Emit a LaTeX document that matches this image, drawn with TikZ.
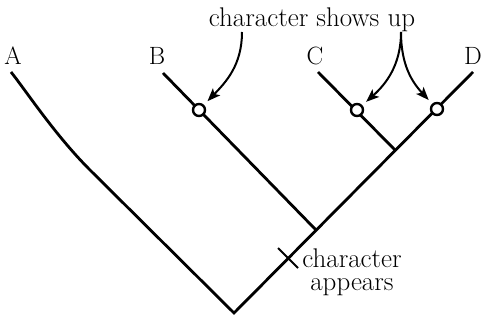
\documentclass[tikz,border=0pt]{standalone}
\usetikzlibrary{arrows.meta}
\begin{document}
\begin{tikzpicture}[x=1pt,y=-1pt,
  branch/.style={line width=2.8pt},
  gain/.style={circle,draw,fill=white,line width=2.4pt,minimum size=12pt,inner sep=0pt},
  pointer/.style={line width=2pt,-{Stealth[length=13pt,width=10pt,inset=3pt]},shorten >=5pt},
  taxon/.style={font=\fontsize{25}{25}\selectfont,anchor=base,inner sep=0pt},
  remark/.style={font=\fontsize{27}{23}\selectfont,inner sep=0pt}]
\useasboundingbox (0,0) rectangle (482,321);

% tree skeleton
\coordinate (root) at (234,313);
\coordinate (tipA) at (11,72);
\coordinate (bendA) at (90,170);
\coordinate (tipB) at (163,73);
\coordinate (tipC) at (318,72);
\coordinate (tipD) at (473,72);
\coordinate (jB) at (316,230);
\coordinate (jCD) at (395,150);

\draw[branch] (tipA) .. controls (26.5,91.5) and (55,135) .. (bendA) -- (root) -- (tipD);
\draw[branch] (jB) -- (tipB);
\draw[branch] (jCD) -- (tipC);

% origin of the character on the stem
\coordinate (cx) at (288,258);
\draw[line width=2pt] (cx) +(-10,-10) -- +(10,10);

% taxon labels
\node[taxon] (lA) at (13,65) {A};
\node[taxon] (lB) at (157,65) {B};
\node[taxon] (lC) at (315,65) {C};
\node[taxon] (lD) at (473,65) {D};

% gain markers
\node[gain] (oB) at (199,110) {};
\node[gain] (oC) at (357,110) {};
\node[gain] (oD) at (437,109) {};

% annotations
\node[remark,anchor=base] (shows) at (312,27) {character shows up};
\node[remark,align=center,anchor=north] (appears) at (352,248.5) {character\\appears};

\coordinate (srcB) at (242,32);
\coordinate (fork) at (401,32);
\draw[pointer] (srcB) .. controls (242,65) and (226,82) .. (oB);
\draw[pointer] (fork) .. controls (401,65) and (386,84) .. (oC);
\draw[pointer] (fork) .. controls (401,65) and (412,82) .. (oD);
\end{tikzpicture}
\end{document}
